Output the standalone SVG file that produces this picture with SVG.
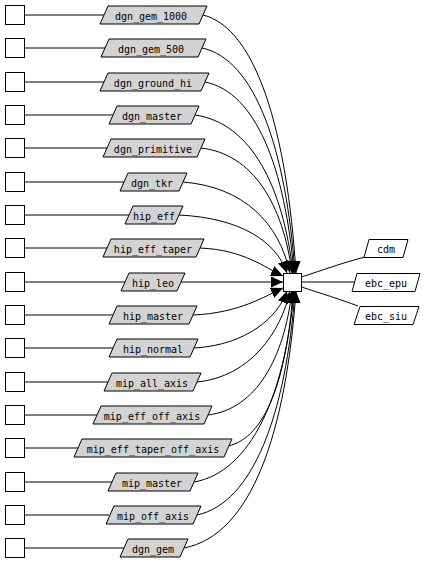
<svg xmlns="http://www.w3.org/2000/svg" width="426" height="562" viewBox="0 0 426 562">
<defs>
<style>
.sq{fill:#fff;stroke:#000;stroke-width:1}
.pg{fill:#d3d3d3;stroke:#000;stroke-width:1}
.pw{fill:#fff;stroke:#000;stroke-width:1}
.t{font-family:"DejaVu Sans Mono","Liberation Mono",monospace;font-size:10px;fill:#000;text-anchor:middle}
.e{fill:none;stroke:#000;stroke-width:1}
.ea{fill:none;stroke:#000;stroke-width:1;marker-end:url(#ah)}
</style>
<marker id="ah" markerUnits="userSpaceOnUse" markerWidth="12" markerHeight="11" refX="12" refY="5.5" orient="auto">
<path d="M0,0 L12,5.5 L0,11 z" fill="#000"/>
</marker>
</defs>
<rect width="426" height="562" fill="#fff"/>
<g id="connectors">
<path class="e" d="M24.5,15 L104,15"/>
<path class="e" d="M24.5,48 L105,48"/>
<path class="e" d="M24.5,82 L104,82"/>
<path class="e" d="M24.5,115 L113,115"/>
<path class="e" d="M24.5,148 L107,148"/>
<path class="e" d="M24.5,182 L124,182"/>
<path class="e" d="M24.5,215 L129,215"/>
<path class="e" d="M24.5,248 L107,248"/>
<path class="e" d="M24.5,282 L125,282"/>
<path class="e" d="M24.5,315 L113,315"/>
<path class="e" d="M24.5,348 L113,348"/>
<path class="e" d="M24.5,382 L108,382"/>
<path class="e" d="M24.5,415 L97,415"/>
<path class="e" d="M24.5,448 L78,448"/>
<path class="e" d="M24.5,482 L113,482"/>
<path class="e" d="M24.5,515 L109,515"/>
<path class="e" d="M24.5,548 L124,548"/>
<path class="ea" d="M203,15 C256,28 287,131 296,273"/>
<path class="ea" d="M202,48 C255,59 286,149 295,273"/>
<path class="ea" d="M205,82 C256,92 285,168 294,273"/>
<path class="ea" d="M195,115 C251,123 283,186 293,273"/>
<path class="ea" d="M201,148 C253,154 283,204 292,273"/>
<path class="ea" d="M183,182 C244,187 279,223 290,273"/>
<path class="ea" d="M179,215 C240,218 276,241 287,273"/>
<path class="ea" d="M200,248 C245,250 265,268 283,276"/>
<path class="ea" d="M181,282 L283,282"/>
<path class="ea" d="M193,315 C240,313 265,296 283,288"/>
<path class="ea" d="M194,348 C247,345 278,317 287,291"/>
<path class="ea" d="M197,382 C250,377 281,332 290,291"/>
<path class="ea" d="M208,415 C256,409 284,359 292,291"/>
<path class="ea" d="M228,446 C266,438 287,377 293,291"/>
<path class="ea" d="M194,482 C251,472 285,395 294,291"/>
<path class="ea" d="M197,515 C253,503 286,414 295,291"/>
<path class="ea" d="M184,548 C252,535 286,432 296,291"/>
<path class="e" d="M301.5,277 C320,271 345,262 365,257"/>
<path class="e" d="M301.5,282 L354,282"/>
<path class="e" d="M301.5,287 C320,293 342,300 358,306"/>
</g>
<g id="n_l0"><rect class="sq" x="5.5" y="5.5" width="19" height="19"/></g>
<g id="n_l1"><rect class="sq" x="5.5" y="38.5" width="19" height="19"/></g>
<g id="n_l2"><rect class="sq" x="5.5" y="72.5" width="19" height="19"/></g>
<g id="n_l3"><rect class="sq" x="5.5" y="105.5" width="19" height="19"/></g>
<g id="n_l4"><rect class="sq" x="5.5" y="138.5" width="19" height="19"/></g>
<g id="n_l5"><rect class="sq" x="5.5" y="172.5" width="19" height="19"/></g>
<g id="n_l6"><rect class="sq" x="5.5" y="205.5" width="19" height="19"/></g>
<g id="n_l7"><rect class="sq" x="5.5" y="238.5" width="19" height="19"/></g>
<g id="n_l8"><rect class="sq" x="5.5" y="272.5" width="19" height="19"/></g>
<g id="n_l9"><rect class="sq" x="5.5" y="305.5" width="19" height="19"/></g>
<g id="n_l10"><rect class="sq" x="5.5" y="338.5" width="19" height="19"/></g>
<g id="n_l11"><rect class="sq" x="5.5" y="372.5" width="19" height="19"/></g>
<g id="n_l12"><rect class="sq" x="5.5" y="405.5" width="19" height="19"/></g>
<g id="n_l13"><rect class="sq" x="5.5" y="438.5" width="19" height="19"/></g>
<g id="n_l14"><rect class="sq" x="5.5" y="472.5" width="19" height="19"/></g>
<g id="n_l15"><rect class="sq" x="5.5" y="505.5" width="19" height="19"/></g>
<g id="n_l16"><rect class="sq" x="5.5" y="538.5" width="19" height="19"/></g>
<g id="dgn_gem_1000"><polygon class="pg" points="108,6 207,6 199,24 100,24"/><text class="t" x="151" y="19.5">dgn_gem_1000</text></g>
<g id="dgn_gem_500"><polygon class="pg" points="109,39 206,39 198,57 101,57"/><text class="t" x="151" y="52.5">dgn_gem_500</text></g>
<g id="dgn_ground_hi"><polygon class="pg" points="108,73 209,73 201,91 100,91"/><text class="t" x="153" y="86.5">dgn_ground_hi</text></g>
<g id="dgn_master"><polygon class="pg" points="117,106 199,106 191,124 109,124"/><text class="t" x="152" y="119.5">dgn_master</text></g>
<g id="dgn_primitive"><polygon class="pg" points="111,139 205,139 197,157 103,157"/><text class="t" x="153" y="152.5">dgn_primitive</text></g>
<g id="dgn_tkr"><polygon class="pg" points="128,173 187,173 179,191 120,191"/><text class="t" x="152" y="186.5">dgn_tkr</text></g>
<g id="hip_eff"><polygon class="pg" points="133,206 183,206 175,224 125,224"/><text class="t" x="154" y="219.5">hip_eff</text></g>
<g id="hip_eff_taper"><polygon class="pg" points="111,239 204,239 196,257 103,257"/><text class="t" x="153" y="252.5">hip_eff_taper</text></g>
<g id="hip_leo"><polygon class="pg" points="129,273 185,273 177,291 121,291"/><text class="t" x="153" y="286.5">hip_leo</text></g>
<g id="hip_master"><polygon class="pg" points="117,306 197,306 189,324 109,324"/><text class="t" x="153" y="319.5">hip_master</text></g>
<g id="hip_normal"><polygon class="pg" points="117,339 198,339 190,357 109,357"/><text class="t" x="153" y="352.5">hip_normal</text></g>
<g id="mip_all_axis"><polygon class="pg" points="112,373 201,373 193,391 104,391"/><text class="t" x="152" y="386.5">mip_all_axis</text></g>
<g id="mip_eff_off_axis"><polygon class="pg" points="101,406 212,406 204,424 93,424"/><text class="t" x="152" y="419.5">mip_eff_off_axis</text></g>
<g id="mip_eff_taper_off_axis"><polygon class="pg" points="82,439 232,439 224,457 74,457"/><text class="t" x="153" y="452.5">mip_eff_taper_off_axis</text></g>
<g id="mip_master"><polygon class="pg" points="116,473 198,473 190,491 108,491"/><text class="t" x="152" y="486.5">mip_master</text></g>
<g id="mip_off_axis"><polygon class="pg" points="114,506 201,506 193,524 106,524"/><text class="t" x="153" y="519.5">mip_off_axis</text></g>
<g id="dgn_gem"><polygon class="pg" points="128,539 188,539 180,557 120,557"/><text class="t" x="153" y="552.5">dgn_gem</text></g>
<g id="center"><rect class="sq" x="283.5" y="273.5" width="18" height="18"/></g>
<g id="cdm"><polygon class="pw" points="369,239.5 408,239.5 403,257.5 364,257.5"/><text class="t" x="386" y="252.5">cdm</text></g>
<g id="ebc_epu"><polygon class="pw" points="357,273.5 420,273.5 415,291.5 352,291.5"/><text class="t" x="386" y="286.5">ebc_epu</text></g>
<g id="ebc_siu"><polygon class="pw" points="360,306.5 419,306.5 413,324.5 354,324.5"/><text class="t" x="386" y="319.5">ebc_siu</text></g>
</svg>
